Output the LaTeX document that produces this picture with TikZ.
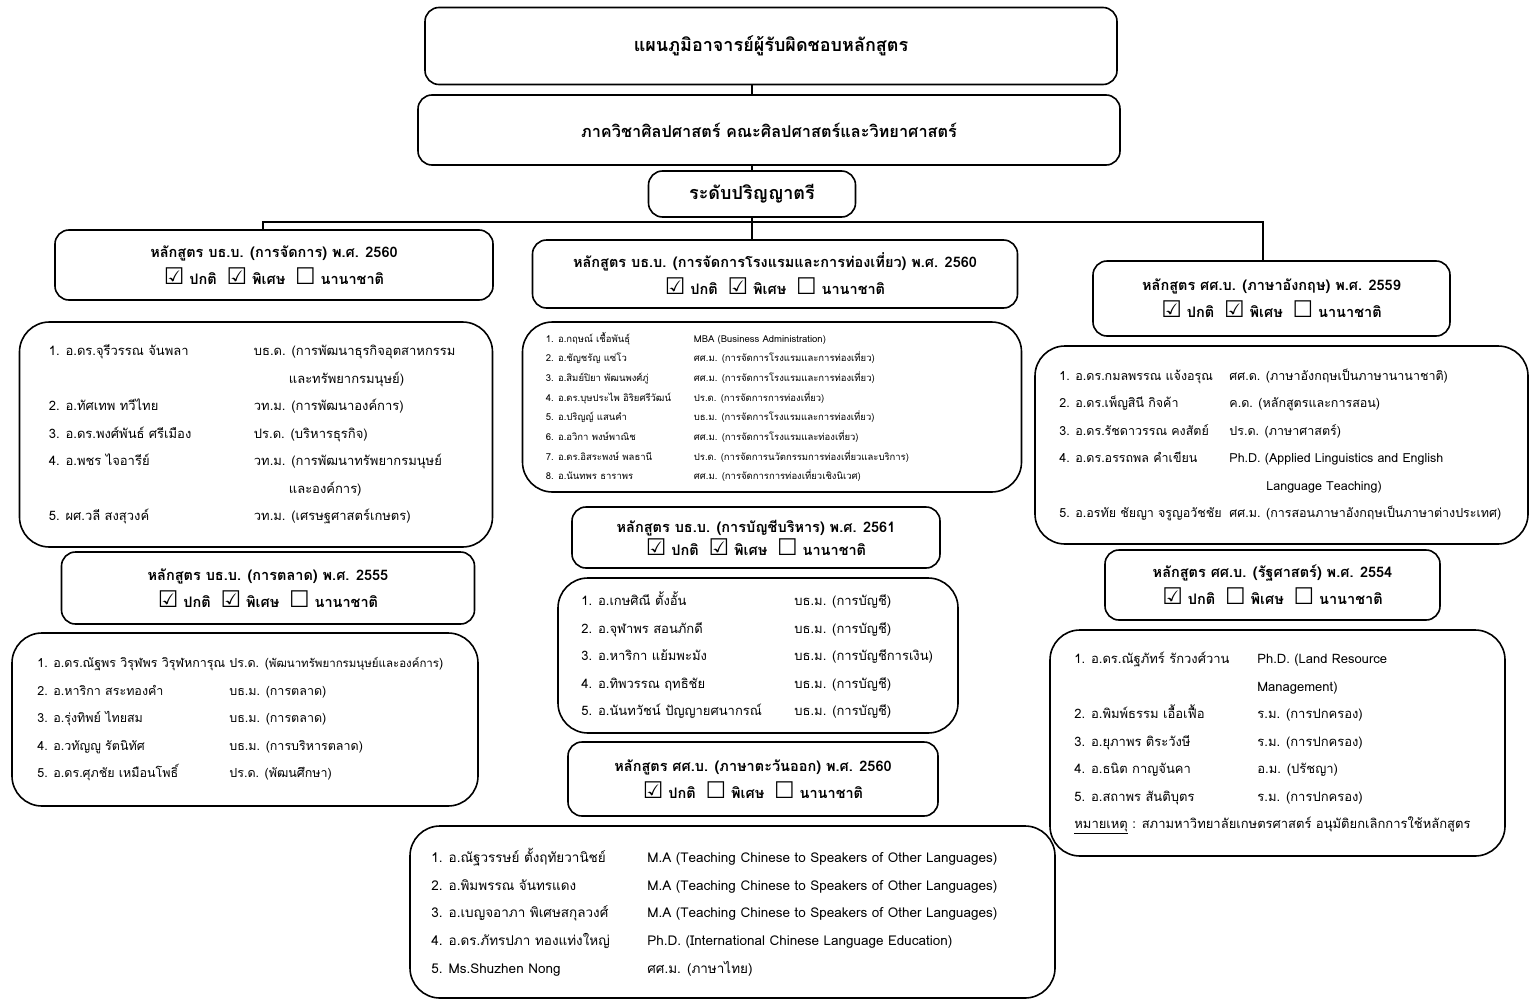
\documentclass[tikz,border=0pt]{standalone}
\usepackage{fontspec}
\setmainfont[Script=Thai]{Loma}
\newfontfamily\symfont{DejaVu Sans}
\newcommand{\boxon}{{\symfont\fontsize{23}{23}\selectfont\char"2611}}
\newcommand{\boxoff}{{\symfont\fontsize{23}{23}\selectfont\char"2610}}
\newcommand{\lecturer}[3]{\makebox[#1][l]{#2}#3}
\usetikzlibrary{positioning}

\begin{document}
\begin{tikzpicture}[x=1pt,y=-1pt]
    \tikzstyle{every node} = [font=\fontsize{13}{27.5}\selectfont]
    \tikzstyle{topbox} = [draw, rectangle, rounded corners=14pt, line width=1.6pt, font=\bfseries\fontsize{18}{22}\selectfont]
    \tikzstyle{coursebox} = [draw, rectangle, rounded corners=14pt, line width=1.6pt, align=center, font=\bfseries\fontsize{14.5}{27}\selectfont]
    \tikzstyle{listbox} = [draw, rectangle, rounded corners=30pt, line width=1.6pt]
    \tikzstyle{listtext} = [anchor=west, align=left, inner sep=0pt, font=\fontsize{13}{27.5}\selectfont]
    \tikzstyle{link} = [line width=1.6pt]
    \useasboundingbox (0,0) rectangle (1531,1001);

    % place nodes
    \node[topbox, minimum width=692pt, minimum height=77pt] (titleBox) at (771,46) {แผนภูมิอาจารย์ผู้รับผิดชอบหลักสูตร};
    \node[topbox, minimum width=702pt, minimum height=70pt, font=\bfseries\fontsize{16.3}{22}\selectfont] (deptBox) at (769,130) {ภาควิชาศิลปศาสตร์ คณะศิลปศาสตร์และวิทยาศาสตร์};
    \node[topbox, minimum width=207pt, minimum height=46pt] (levelBox) at (752,194) {ระดับปริญญาตรี};

    % left column
    \node[coursebox, minimum width=438pt, minimum height=70pt] (mgtHead) at (274,265)
    {หลักสูตร บธ.บ. (การจัดการ) พ.ศ. 2560\\\boxon\ ปกติ\ \ \boxon\ พิเศษ\ \ \boxoff\ นานาชาติ};
    \node[listbox, minimum width=473pt, minimum height=225pt] (mgtList) at (256,434.5) {};
    \node[listtext] (mgtStaff) at ([xshift=30pt]mgtList.west) {%
    \lecturer{205pt}{1. อ.ดร.จุรีวรรณ จันพลา}{บธ.ด. (การพัฒนาธุรกิจอุตสาหกรรม}\\
    \lecturer{205pt}{}{\hspace*{35pt}และทรัพยากรมนุษย์)}\\
    \lecturer{205pt}{2. อ.ทัศเทพ ทวีไทย}{วท.ม. (การพัฒนาองค์การ)}\\
    \lecturer{205pt}{3. อ.ดร.พงศ์พันธ์ ศรีเมือง}{ปร.ด. (บริหารธุรกิจ)}\\
    \lecturer{205pt}{4. อ.พชร ไจอารีย์}{วท.ม. (การพัฒนาทรัพยากรมนุษย์}\\
    \lecturer{205pt}{}{\hspace*{35pt}และองค์การ)}\\
    \lecturer{205pt}{5. ผศ.วลี สงสุวงค์}{วท.ม. (เศรษฐศาสตร์เกษตร)}};

    \node[coursebox, minimum width=413pt, minimum height=72pt] (mktHead) at (268,588)
    {หลักสูตร บธ.บ. (การตลาด) พ.ศ. 2555\\\boxon\ ปกติ\ \ \boxon\ พิเศษ\ \ \boxoff\ นานาชาติ};
    \node[listbox, minimum width=466pt, minimum height=173pt] (mktList) at (245,719.5) {};
    \node[listtext, font=\fontsize{12.5}{27.5}\selectfont] (mktStaff) at ([xshift=26pt]mktList.west) {%
    1. อ.ดร.ณัฐพร วิรุฬพร วิรุฬหการุณ\ ปร.ด. ({\fontsize{11.5}{27.5}\selectfont พัฒนาทรัพยากรมนุษย์และองค์การ})\\
    \lecturer{192pt}{2. อ.หาริกา สระทองคำ}{บธ.ม. (การตลาด)}\\
    \lecturer{192pt}{3. อ.รุ่งทิพย์ ไทยสม}{บธ.ม. (การตลาด)}\\
    \lecturer{192pt}{4. อ.วทัญญู รัตนิทัศ}{บธ.ม. (การบริหารตลาด)}\\
    \lecturer{192pt}{5. อ.ดร.ศุภชัย เหมือนโพธิ์}{ปร.ด. (พัฒนศึกษา)}};

    % middle column
    \node[coursebox, minimum width=485pt, minimum height=68pt] (hotelHead) at (775,274)
    {หลักสูตร บธ.บ. (การจัดการโรงแรมและการท่องเที่ยว) พ.ศ. 2560\\\boxon\ ปกติ\ \ \boxon\ พิเศษ\ \ \boxoff\ นานาชาติ};
    \node[listbox, minimum width=499pt, minimum height=170pt] (hotelList) at (772,407) {};
    \node[listtext, font=\fontsize{9.5}{19.7}\selectfont] (hotelStaff) at ([xshift=24pt]hotelList.west) {%
    \lecturer{148pt}{1. อ.กฤษณ์ เชื้อพันธุ์}{MBA (Business Administration)}\\
    \lecturer{148pt}{2. อ.ชัญชรัญ แซ่โว}{ศศ.ม. (การจัดการโรงแรมและการท่องเที่ยว)}\\
    \lecturer{148pt}{3. อ.สิมย์ปิยา พัฒนพงศ์ภู่}{ศศ.ม. (การจัดการโรงแรมและการท่องเที่ยว)}\\
    \lecturer{148pt}{4. อ.ดร.บุษประไพ อิริยศรีวัฒน์}{ปร.ด. (การจัดการการท่องเที่ยว)}\\
    \lecturer{148pt}{5. อ.ปริญญ์ แสนคำ}{บธ.ม. (การจัดการโรงแรมและการท่องเที่ยว)}\\
    \lecturer{148pt}{6. อ.อวิกา พงษ์พาณิช}{ศศ.ม. (การจัดการโรงแรมและท่องเที่ยว)}\\
    \lecturer{148pt}{7. อ.ดร.อิสระพงษ์ พลธานี}{ปร.ด. (การจัดการนวัตกรรมการท่องเที่ยวและบริการ)}\\
    \lecturer{148pt}{8. อ.นันทพร ธาราพร}{ศศ.ม. (การจัดการการท่องเที่ยวเชิงนิเวศ)}};

    \node[coursebox, minimum width=368pt, minimum height=61pt] (acctHead) at (756,537.5)
    {หลักสูตร บธ.บ. (การบัญชีบริหาร) พ.ศ. 2561\\[-4pt]\boxon\ ปกติ\ \ \boxon\ พิเศษ\ \ \boxoff\ นานาชาติ};
    \node[listbox, minimum width=400pt, minimum height=155pt] (acctList) at (758,655.5) {};
    \node[listtext] (acctStaff) at ([xshift=24pt]acctList.west) {%
    \lecturer{213pt}{1. อ.เกษศิณี ตั้งอั้น}{บธ.ม. (การบัญชี)}\\
    \lecturer{213pt}{2. อ.จุฬาพร สอนภักดี}{บธ.ม. (การบัญชี)}\\
    \lecturer{213pt}{3. อ.หาริกา แย้มพะมัง}{บธ.ม. (การบัญชีการเงิน)}\\
    \lecturer{213pt}{4. อ.ทิพวรรณ ฤทธิชัย}{บธ.ม. (การบัญชี)}\\
    \lecturer{213pt}{5. อ.นันทวัชน์ ปัญญายศนากรณ์}{บธ.ม. (การบัญชี)}};

    \node[coursebox, minimum width=370pt, minimum height=74pt] (chnHead) at (753,779)
    {หลักสูตร ศศ.บ. (ภาษาตะวันออก) พ.ศ. 2560\\\boxon\ ปกติ\ \ \boxoff\ พิเศษ\ \ \boxoff\ นานาชาติ};
    \node[listbox, minimum width=645pt, minimum height=172pt] (chnList) at (732.5,912) {};
    \node[listtext, font=\fontsize{13.5}{27.7}\selectfont] (chnStaff) at ([xshift=22pt]chnList.west) {%
    \lecturer{216pt}{1. อ.ณัฐวรรษย์ ตั้งฤทัยวานิชย์}{M.A (Teaching Chinese to Speakers of Other Languages)}\\
    \lecturer{216pt}{2. อ.พิมพรรณ จันทรแดง}{M.A (Teaching Chinese to Speakers of Other Languages)}\\
    \lecturer{216pt}{3. อ.เบญจอาภา พิเศษสกุลวงศ์}{M.A (Teaching Chinese to Speakers of Other Languages)}\\
    \lecturer{216pt}{4. อ.ดร.ภัทรปภา ทองแท่งใหญ่}{Ph.D. (International Chinese Language Education)}\\
    \lecturer{216pt}{5. Ms.Shuzhen Nong}{ศศ.ม. (ภาษาไทย)}};

    % right column
    \node[coursebox, minimum width=357pt, minimum height=75pt] (engHead) at (1271.5,298.5)
    {หลักสูตร ศศ.บ. (ภาษาอังกฤษ) พ.ศ. 2559\\\boxon\ ปกติ\ \ \boxon\ พิเศษ\ \ \boxoff\ นานาชาติ};
    \node[listbox, minimum width=493pt, minimum height=198pt] (engList) at (1281.5,445) {};
    \node[listtext, font=\fontsize{12.5}{27.5}\selectfont] (engStaff) at ([xshift=25pt]engList.west) {%
    \lecturer{170pt}{1. อ.ดร.กมลพรรณ แจ้งอรุณ}{ศศ.ด. (ภาษาอังกฤษเป็นภาษานานาชาติ)}\\
    \lecturer{170pt}{2. อ.ดร.เพ็ญสินี กิจค้า}{ค.ด. (หลักสูตรและการสอน)}\\
    \lecturer{170pt}{3. อ.ดร.รัชดาวรรณ คงสัตย์}{ปร.ด. (ภาษาศาสตร์)}\\
    \lecturer{170pt}{4. อ.ดร.อรรถพล คำเขียน}{Ph.D. (Applied Linguistics and English}\\
    \lecturer{170pt}{}{\hspace*{37pt}Language Teaching)}\\
    \lecturer{170pt}{5. อ.อรทัย ชัยญา จรูญอวัชชัย}{ศศ.ม. (การสอนภาษาอังกฤษเป็นภาษาต่างประเทศ)}};

    \node[coursebox, minimum width=335pt, minimum height=70pt] (polHead) at (1272.5,585)
    {หลักสูตร ศศ.บ. (รัฐศาสตร์) พ.ศ. 2554\\\boxon\ ปกติ\ \ \boxoff\ พิเศษ\ \ \boxoff\ นานาชาติ};
    \node[listbox, minimum width=455pt, minimum height=226pt] (polList) at (1277.5,743) {};
    \node[listtext] (polStaff) at ([xshift=25pt]polList.west) {%
    \lecturer{183pt}{1. อ.ดร.ณัฐภัทร์ รักวงศ์วาน}{Ph.D. (Land Resource}\\
    \lecturer{183pt}{}{Management)}\\
    \lecturer{183pt}{2. อ.พิมพ์ธรรม เอื้อเฟื้อ}{ร.ม. (การปกครอง)}\\
    \lecturer{183pt}{3. อ.ยุภาพร ติระวังษี}{ร.ม. (การปกครอง)}\\
    \lecturer{183pt}{4. อ.ธนิต กาญจันคา}{อ.ม. (ปรัชญา)}\\
    \lecturer{183pt}{5. อ.สถาพร สันติบุตร}{ร.ม. (การปกครอง)}\\
    \underline{หมายเหตุ} : สภามหาวิทยาลัยเกษตรศาสตร์ อนุมัติยกเลิกการใช้หลักสูตร};

    % Connections
    \coordinate (busLeft) at (263,222);
    \coordinate (busRight) at (1263,222);
    \draw[link] (levelBox.north |- titleBox.south) -- (levelBox.north |- deptBox.north);
    \draw[link] (levelBox.north |- deptBox.south) -- (levelBox.north);
    \draw[link] (levelBox.south) -- (levelBox.south |- hotelHead.north);
    \draw[link] (busLeft |- mgtHead.north) -- (busLeft) -- (busRight) -- (busRight |- engHead.north);

\end{tikzpicture}
\end{document}
